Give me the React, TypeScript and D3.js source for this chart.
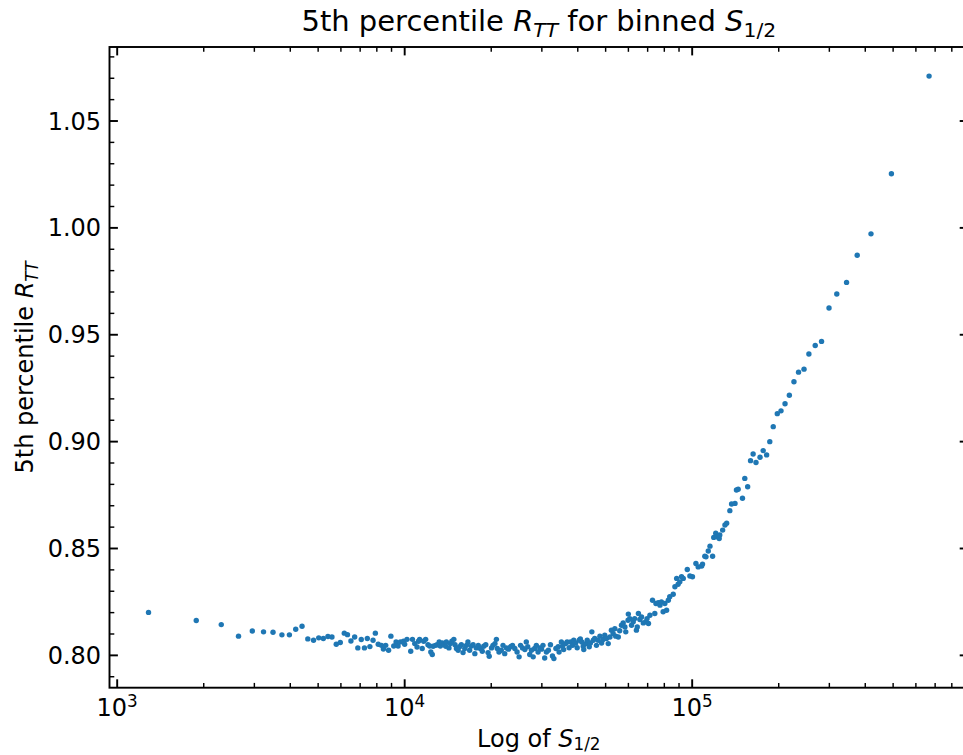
import React from "react";
import * as d3 from "d3";

// log10 of S_1/2 for each bin
const log10S: number[] = [
  3.109, 3.275, 3.362, 3.422, 3.470, 3.509, 3.542, 3.573, 3.599, 3.621, 3.643, 3.663, 3.683, 3.701, 3.717, 3.733,
  3.747, 3.762, 3.776, 3.790, 3.801, 3.813, 3.826, 3.837, 3.849, 3.860, 3.870, 3.879, 3.890, 3.898, 3.908, 3.919,
  3.926, 3.934, 3.944, 3.952, 3.962, 3.970, 3.977, 3.985, 3.996, 4.000, 4.008, 4.021, 4.027, 4.035, 4.043, 4.048,
  4.052, 4.061, 4.066, 4.073, 4.081, 4.087, 4.091, 4.099, 4.096, 4.107, 4.113, 4.120, 4.124, 4.131, 4.137, 4.143,
  4.145, 4.154, 4.159, 4.164, 4.171, 4.175, 4.180, 4.186, 4.191, 4.197, 4.203, 4.209, 4.215, 4.220, 4.226, 4.232,
  4.238, 4.244, 4.249, 4.256, 4.263, 4.270, 4.275, 4.282, 4.290, 4.294, 4.302, 4.307, 4.314, 4.319, 4.322, 4.328,
  4.336, 4.342, 4.348, 4.354, 4.361, 4.368, 4.375, 4.383, 4.391, 4.398, 4.403, 4.410, 4.418, 4.423, 4.428, 4.435,
  4.441, 4.447, 4.452, 4.458, 4.464, 4.470, 4.476, 4.481, 4.487, 4.493, 4.500, 4.507, 4.514, 4.519, 4.526, 4.534,
  4.537, 4.545, 4.549, 4.553, 4.560, 4.565, 4.572, 4.577, 4.584, 4.588, 4.595, 4.600, 4.607, 4.611, 4.616, 4.621,
  4.623, 4.630, 4.635, 4.642, 4.646, 4.651, 4.656, 4.661, 4.667, 4.673, 4.679, 4.685, 4.690, 4.696, 4.702, 4.708,
  4.714, 4.719, 4.725, 4.731, 4.734, 4.743, 4.748, 4.754, 4.760, 4.766, 4.769, 4.777, 4.778, 4.783, 4.789, 4.795,
  4.800, 4.806, 4.809, 4.813, 4.818, 4.824, 4.830, 4.839, 4.843, 4.848, 4.853, 4.862, 4.870, 4.874, 4.882, 4.888,
  4.893, 4.899, 4.905, 4.911, 4.917, 4.922, 4.934, 4.940, 4.946, 4.951, 4.957, 4.963, 4.969, 4.983, 4.992, 5.001,
  5.013, 5.021, 5.033, 5.036, 5.044, 5.048, 5.056, 5.062, 5.071, 5.075, 5.082, 5.087, 5.094, 5.096, 5.106, 5.114,
  5.120, 5.131, 5.137, 5.149, 5.154, 5.160, 5.175, 5.183, 5.193, 5.203, 5.212, 5.222, 5.236, 5.247, 5.259, 5.270,
  5.282, 5.296, 5.309, 5.323, 5.338, 5.354, 5.370, 5.389, 5.406, 5.428, 5.450, 5.476, 5.503, 5.537, 5.574, 5.622,
  5.693, 5.824,
];

// 5th percentile R_TT for each bin
const rTT: number[] = [
  0.8201, 0.8163, 0.8144, 0.8090, 0.8114, 0.8110, 0.8108, 0.8096, 0.8096, 0.8122, 0.8136, 0.8077, 0.8071, 0.8082, 0.8079, 0.8088,
  0.8086, 0.8052, 0.8060, 0.8104, 0.8097, 0.8067, 0.8086, 0.8035, 0.8074, 0.8035, 0.8079, 0.8041, 0.8071, 0.8104, 0.8052, 0.8047,
  0.8030, 0.8047, 0.8024, 0.8090, 0.8044, 0.8063, 0.8044, 0.8063, 0.8066, 0.8052, 0.8075, 0.8019, 0.8075, 0.8055, 0.8039, 0.8066,
  0.8075, 0.8032, 0.8066, 0.8075, 0.8050, 0.8044, 0.8016, 0.8043, 0.8004, 0.8047, 0.8050, 0.8063, 0.8044, 0.8058, 0.8050, 0.8043,
  0.8063, 0.8035, 0.8055, 0.8066, 0.8075, 0.8050, 0.8032, 0.8024, 0.8040, 0.8050, 0.8013, 0.8032, 0.8047, 0.8063, 0.8024, 0.8044,
  0.8050, 0.8008, 0.8035, 0.8047, 0.8032, 0.8019, 0.8043, 0.8050, 0.8013, 0.7996, 0.8035, 0.8047, 0.8055, 0.8075, 0.8032, 0.8016,
  0.8024, 0.8047, 0.8008, 0.8035, 0.8029, 0.8040, 0.8047, 0.8032, 0.8016, 0.7993, 0.8047, 0.8035, 0.8027, 0.8063, 0.8040, 0.8004,
  0.8024, 0.7993, 0.8032, 0.8047, 0.8016, 0.8035, 0.8029, 0.8047, 0.7988, 0.8016, 0.8024, 0.8050, 0.7997, 0.7985, 0.8032, 0.8040,
  0.8016, 0.8063, 0.8043, 0.8027, 0.8055, 0.8063, 0.8036, 0.8063, 0.8047, 0.8071, 0.8058, 0.8036, 0.8071, 0.8077, 0.8063, 0.8043,
  0.8027, 0.8055, 0.8071, 0.8040, 0.8058, 0.8110, 0.8071, 0.8079, 0.8047, 0.8071, 0.8090, 0.8058, 0.8074, 0.8094, 0.8079, 0.8055,
  0.8086, 0.8118, 0.8102, 0.8125, 0.8090, 0.8086, 0.8115, 0.8141, 0.8152, 0.8133, 0.8110, 0.8164, 0.8193, 0.8172, 0.8141, 0.8157,
  0.8172, 0.8118, 0.8133, 0.8196, 0.8168, 0.8180, 0.8152, 0.8157, 0.8172, 0.8149, 0.8188, 0.8258, 0.8196, 0.8243, 0.8246, 0.8235,
  0.8250, 0.8204, 0.8243, 0.8211, 0.8258, 0.8274, 0.8286, 0.8321, 0.8360, 0.8333, 0.8344, 0.8368, 0.8360, 0.8402, 0.8371, 0.8368,
  0.8430, 0.8414, 0.8418, 0.8427, 0.8464, 0.8461, 0.8488, 0.8511, 0.8464, 0.8552, 0.8571, 0.8555, 0.8547, 0.8563, 0.8586, 0.8610,
  0.8618, 0.8677, 0.8708, 0.8711, 0.8774, 0.8777, 0.8735, 0.8828, 0.8789, 0.8911, 0.8942, 0.8902, 0.8927, 0.8958, 0.8938, 0.9000,
  0.9070, 0.9131, 0.9144, 0.9177, 0.9217, 0.9280, 0.9325, 0.9339, 0.9410, 0.9450, 0.9469, 0.9625, 0.9691, 0.9745, 0.9872, 0.9972,
  1.0253, 1.0710,
];

const xMajorTicks = [1e3, 1e4, 1e5];
const xMajorExponents = ["3", "4", "5"];
const yMajorTicks = [0.8, 0.85, 0.9, 0.95, 1.0, 1.05];
const yTickLabels = ["0.80", "0.85", "0.90", "0.95", "1.00", "1.05"];

const W = 963;
const H = 755;
const M = { left: 109.5, right: 968.1, top: 47, bottom: 687.7 };
const PT = 2.4;
const COLOR = "#1f77b4";
const FONT = "'DejaVu Sans', sans-serif";

export default function App() {
  const [lxMin, lxMax] = d3.extent(log10S) as [number, number];
  const lxSpan = lxMax - lxMin;
  const x = d3
    .scaleLog()
    .domain([10 ** (lxMin - 0.05 * lxSpan), 10 ** (lxMax + 0.05 * lxSpan)])
    .range([M.left, M.right]);
  const [ryMin, ryMax] = d3.extent(rTT) as [number, number];
  const rySpan = ryMax - ryMin;
  const y = d3
    .scaleLinear()
    .domain([ryMin - 0.05 * rySpan, ryMax + 0.05 * rySpan])
    .range([M.bottom, M.top]);

  const [xd0, xd1] = x.domain();
  const xMinor: number[] = [];
  for (let k = 2; k <= 6; k++) {
    for (let m = 2; m <= 9; m++) {
      const v = m * 10 ** k;
      if (v >= xd0 && v <= xd1) xMinor.push(v);
    }
  }
  const [yd0, yd1] = y.domain();
  const yMinor: number[] = [];
  for (let i = Math.ceil(yd0 * 100); i <= Math.floor(yd1 * 100); i++) {
    if (i % 5 !== 0) yMinor.push(i / 100);
  }

  const majL = 3.5 * PT;
  const minL = 2 * PT;
  const majW = 0.8 * PT;
  const minW = 0.6 * PT;
  const cx = (M.left + M.right) / 2;
  const cy = (M.top + M.bottom) / 2;

  return (
    <svg
      width={W}
      height={H}
      style={{ position: "absolute", left: 0, top: 0, background: "#fff" }}
      fontFamily={FONT}
    >
      <rect x={0} y={0} width={W} height={H} fill="#fff" />
      {/* points */}
      <g>
        {log10S.map((lv, i) => (
          <circle key={i} cx={x(10 ** lv)} cy={y(rTT[i])} r={2.7} fill={COLOR} />
        ))}
      </g>
      {/* ticks */}
      <g stroke="#000">
        {xMajorTicks.map((t) => (
          <g key={"xM" + t} strokeWidth={majW}>
            <line x1={x(t)} x2={x(t)} y1={M.bottom} y2={M.bottom - majL} />
            <line x1={x(t)} x2={x(t)} y1={M.top} y2={M.top + majL} />
          </g>
        ))}
        {xMinor.map((t) => (
          <g key={"xm" + t} strokeWidth={minW}>
            <line x1={x(t)} x2={x(t)} y1={M.bottom} y2={M.bottom - minL} />
            <line x1={x(t)} x2={x(t)} y1={M.top} y2={M.top + minL} />
          </g>
        ))}
        {yMajorTicks.map((t) => (
          <g key={"yM" + t} strokeWidth={majW}>
            <line x1={M.left} x2={M.left + majL} y1={y(t)} y2={y(t)} />
            <line x1={M.right} x2={M.right - majL} y1={y(t)} y2={y(t)} />
          </g>
        ))}
        {yMinor.map((t) => (
          <g key={"ym" + t} strokeWidth={minW}>
            <line x1={M.left} x2={M.left + minL} y1={y(t)} y2={y(t)} />
            <line x1={M.right} x2={M.right - minL} y1={y(t)} y2={y(t)} />
          </g>
        ))}
      </g>
      {/* spines */}
      <rect
        x={M.left}
        y={M.top}
        width={M.right - M.left}
        height={M.bottom - M.top}
        fill="none"
        stroke="#000"
        strokeWidth={0.8 * PT}
      />
      {/* y tick labels */}
      <g fontSize={24} textAnchor="end" fill="#000">
        {yMajorTicks.map((t, i) => (
          <text key={t} x={M.left - 3.5 * PT} y={y(t) + 8.6}>
            {yTickLabels[i]}
          </text>
        ))}
      </g>
      {/* x tick labels */}
      <g fontSize={24} textAnchor="middle" fill="#000">
        {xMajorTicks.map((t, i) => (
          <text key={t} x={x(t)} y={716}>
            10
            <tspan fontSize={16.8} dy={-9}>
              {xMajorExponents[i]}
            </tspan>
          </text>
        ))}
      </g>
      {/* title */}
      <text x={cx} y={31} fontSize={29} textAnchor="middle" fill="#000">
        5th percentile{" "}
        <tspan fontStyle="italic">R</tspan>
        <tspan fontStyle="italic" fontSize={20.3} dy={6}>
          TT
        </tspan>
        <tspan dy={-6}> for binned </tspan>
        <tspan fontStyle="italic">S</tspan>
        <tspan fontSize={20.3} dy={6}>
          1/2
        </tspan>
      </text>
      {/* x label */}
      <text x={cx} y={747} fontSize={24} textAnchor="middle" fill="#000">
        Log of <tspan fontStyle="italic">S</tspan>
        <tspan fontSize={16.8} dy={3}>
          1/2
        </tspan>
      </text>
      {/* y label */}
      <text
        transform={`translate(33, ${cy}) rotate(-90)`}
        fontSize={24}
        textAnchor="middle"
        fill="#000"
      >
        5th percentile <tspan fontStyle="italic">R</tspan>
        <tspan fontStyle="italic" fontSize={16.8} dy={5}>
          TT
        </tspan>
      </text>
    </svg>
  );
}
